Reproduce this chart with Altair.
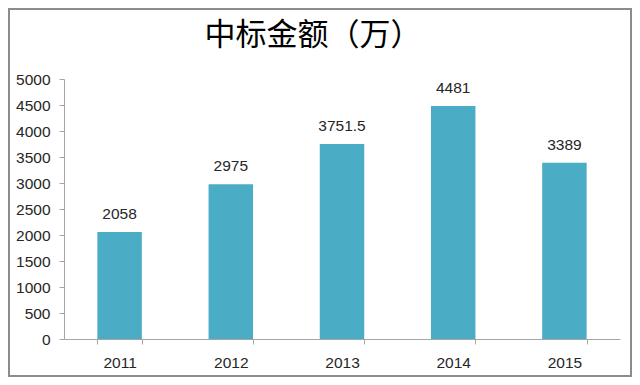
import altair as alt
import pandas as pd

years = ["2011", "2012", "2013", "2014", "2015"]
values = [2058, 2975, 3751.5, 4481, 3389]
labels = ["2058", "2975", "3751.5", "4481", "3389"]
title_text = "中标金额（万）"

df = pd.DataFrame({"year": years, "value": values, "label": labels})

W, H = 556, 260
font = "Liberation Sans"
cjk = "Noto Sans CJK SC"
fs = 15.5

x_enc = alt.X("year:N", sort=years, title=None,
              scale=alt.Scale(paddingInner=0.6, paddingOuter=0.3),
              axis=alt.Axis(labelAngle=0, labelFontSize=fs, labelColor="#262626",
                            labelFont=font, domainColor="#a6a6a6", tickColor="#a6a6a6",
                            tickSize=5, tickBand="extent", labelPadding=11))
y_enc = alt.Y("value:Q", title=None,
              scale=alt.Scale(domain=[0, 5000], nice=False),
              axis=alt.Axis(values=list(range(0, 5001, 500)), grid=False, format="d",
                            labelOverlap=False,
                            labelFontSize=fs, labelColor="#262626", labelFont=font,
                            domainColor="#a6a6a6", tickColor="#a6a6a6", tickSize=5,
                            labelPadding=9))

base = alt.Chart(df).encode(x=x_enc, y=y_enc)
bars = base.mark_bar(color="#4BACC6")
text = base.mark_text(dy=-18, fontSize=fs, color="#262626", font=font).encode(
    text="label:N")

one = pd.DataFrame({"t": [title_text]})
title = alt.Chart(one).mark_text(fontSize=31, font=cjk, color="#000000",
                                 align="center", baseline="middle").encode(
    x=alt.value(W / 2 - 29), y=alt.value(-43), text="t:N")

border = alt.Chart(one).mark_rect(
    filled=False, stroke="#8c8c8c", strokeWidth=2).encode(
    x=alt.value(-55), x2=alt.value(W + 11), y=alt.value(-70), y2=alt.value(H + 37))

chart = alt.layer(bars, text, title, border).properties(
    width=W, height=H,
    autosize=alt.AutoSizeParams(type="none"),
    padding={"left": 56, "top": 71, "right": 12, "bottom": 38},
).configure(background="white").configure_view(stroke=None)

chart.save("out.html", embed_options={"renderer": "svg", "actions": False})
